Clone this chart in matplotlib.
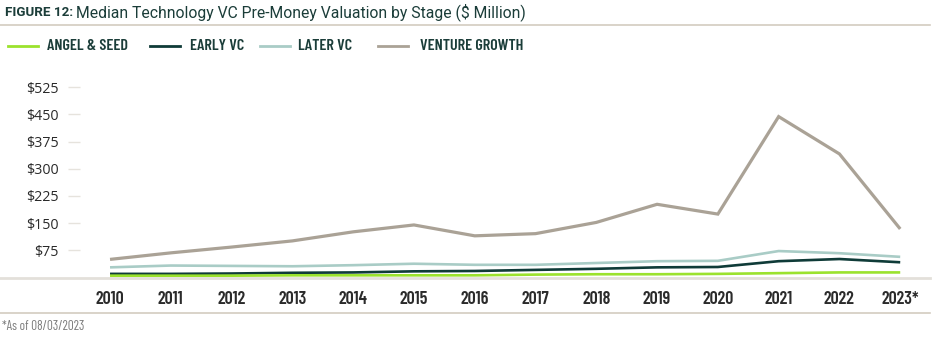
import matplotlib.pyplot as plt
from matplotlib.lines import Line2D

# Median pre-money valuation by stage, $M
years = [2010, 2011, 2012, 2013, 2014, 2015, 2016, 2017, 2018, 2019, 2020, 2021, 2022, 2023]
year_labels = ["2010", "2011", "2012", "2013", "2014", "2015", "2016",
               "2017", "2018", "2019", "2020", "2021", "2022", "2023*"]
angel_seed = [5, 5, 5, 6, 6, 6, 6, 8, 9, 9, 10, 12, 14, 14]
early_vc = [10, 10, 11, 13, 14, 17, 18, 21, 24, 28, 29, 45, 51, 42]
later_vc = [28, 33, 32, 31, 34, 38, 35, 35, 40, 45, 46, 73, 67, 57]
venture_growth = [50, 68, 84, 101, 126, 145, 115, 121, 152, 202, 175, 444, 341, 134]
y_ticks = [75, 150, 225, 300, 375, 450, 525]

series = [
    ("ANGEL & SEED", angel_seed, "#9be22d", 1.9),
    ("EARLY VC", early_vc, "#0f3b38", 1.9),
    ("LATER VC", later_vc, "#a9ccc6", 1.9),
    ("VENTURE GROWTH", venture_growth, "#aaa296", 2.3),
]

W, H = 945, 338
fig = plt.figure(figsize=(W / 100, H / 100), dpi=100)

narrow = ["Barlow Condensed", "Roboto Condensed", "DejaVu Sans"]
title_dark = "#1b3d39"

ax = fig.add_axes([80 / W, 1 - 277.5 / H, 850 / W, 197.5 / H])
for name, vals, color, lw in reversed(series):
    ax.plot(years, vals, color=color, lw=lw, solid_capstyle="butt", solid_joinstyle="miter")

ax.set_xlim(2009.506, 2023.49)
ax.set_ylim(0, 545)
ax.set_yticks(y_ticks)
ax.set_yticklabels([f"${v}" for v in y_ticks], fontsize=10.3, color="#2a2a2a",
                   family="Open Sans")
ax.tick_params(axis="y", direction="out", length=8.6, width=1, color="#e6e3dd", pad=7)
ax.set_xticks(years)
ax.set_xticklabels(year_labels, fontsize=13, fontweight=600, color="#2b2b2b",
                   family=narrow)
ax.tick_params(axis="x", length=0, pad=10)
for s in ax.spines.values():
    s.set_visible(False)

# Rules: under title, baseline, under x labels
fig.add_artist(Line2D([0, 930 / W], [1 - 25 / H] * 2, color="#d3ccc0", lw=1.2))
fig.add_artist(Line2D([0, 930 / W], [1 - 277.5 / H] * 2, color="#e3e0da", lw=2))
fig.add_artist(Line2D([0, 930 / W], [1 - 313 / H] * 2, color="#d3ccc0", lw=1.2))

# Title
fig.text(5 / W, 1 - 12 / H, "FIGURE 12:", fontsize=9.6, fontweight="bold",
         color=title_dark, va="center", ha="left", family="Roboto")
fig.text(76 / W, 1 - 12 / H, "Median Technology VC Pre-Money Valuation by Stage ($ Million)",
         fontsize=11.35, color=title_dark, va="center", ha="left", family="Roboto")

# Legend
legend_x = [(8, 47), (150, 190), (260, 298), (378, 420)]
for (lx, tx), (name, vals, color, lw) in zip(legend_x, series):
    fig.add_artist(Line2D([lx / W, (lx + 30) / W], [1 - 46 / H] * 2, color=color, lw=2))
    fig.text(tx / W, 1 - 46 / H, name, fontsize=11.6, fontweight=600, color=title_dark,
             va="center", ha="left", family=narrow)

fig.text(2 / W, 1 - 327 / H, "*As of 08/03/2023", fontsize=9.5, color="#7a7a7a",
         va="center", ha="left", family=narrow)

fig.savefig("out.png", dpi=100)
